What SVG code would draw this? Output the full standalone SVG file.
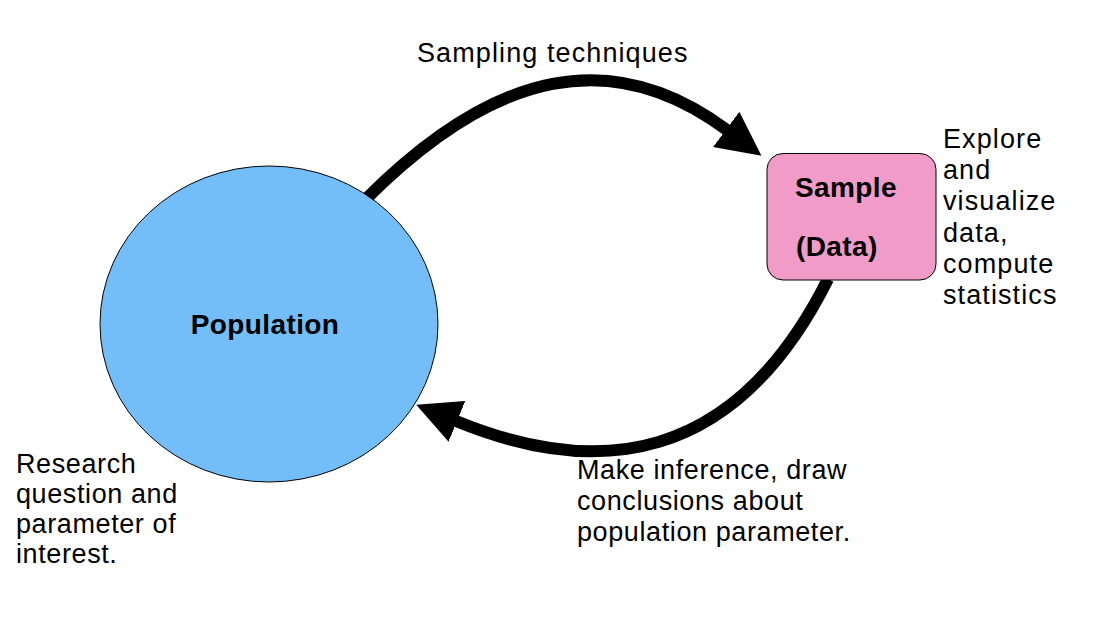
<svg xmlns="http://www.w3.org/2000/svg" width="1114" height="626" viewBox="0 0 1114 626">
<style>
.lbl{font-family:"Liberation Sans",Arial,Helvetica,sans-serif;font-size:27px;letter-spacing:0.6px;fill:#000}
.wide{letter-spacing:1.1px}
.bold{font-family:"Liberation Sans",Arial,Helvetica,sans-serif;font-size:28px;font-weight:bold;letter-spacing:0.4px;fill:#000}
.conn{fill:none;stroke:#000;stroke-width:12;marker-end:url(#arrow)}
</style>
<defs>
<marker id="arrow" markerUnits="userSpaceOnUse" viewBox="0 0 44 44" markerWidth="44" markerHeight="44" refX="1" refY="22" orient="auto">
<path d="M0,0 L44,22 L0,44 Z" fill="#000"/>
</marker>
</defs>
<rect width="1114" height="626" fill="#fff"/>
<g id="connectors">
<path class="conn" d="M366,199 C496,69 613,45 727,130"/>
<path class="conn" d="M828,279 C734,467 595,478 456,421"/>
</g>
<g id="population">
<ellipse cx="269" cy="324" rx="169" ry="158" fill="#73BEF8" stroke="#000" stroke-width="1"/>
<text class="bold" x="265" y="334" text-anchor="middle">Population</text>
</g>
<g id="sample">
<rect x="767" y="153.5" width="169" height="126.5" rx="16" fill="#F09BC8" stroke="#000" stroke-width="1"/>
<text class="bold" x="795" y="197">Sample</text>
<text class="bold" x="796" y="256">(Data)</text>
</g>
<g id="labels">
<text class="lbl wide" x="417" y="62">Sampling techniques</text>
<text class="lbl wide" x="943" y="148">Explore</text>
<text class="lbl wide" x="943" y="179">and</text>
<text class="lbl wide" x="943" y="210">visualize</text>
<text class="lbl wide" x="943" y="242">data,</text>
<text class="lbl wide" x="943" y="273">compute</text>
<text class="lbl wide" x="943" y="304">statistics</text>
<text class="lbl" x="16" y="473">Research</text>
<text class="lbl" x="16" y="503">question and</text>
<text class="lbl" x="16" y="533">parameter of</text>
<text class="lbl" x="16" y="563">interest.</text>
<text class="lbl" x="577" y="479">Make inference, draw</text>
<text class="lbl" x="577" y="510">conclusions about</text>
<text class="lbl" x="577" y="541">population parameter.</text>
</g>
</svg>
